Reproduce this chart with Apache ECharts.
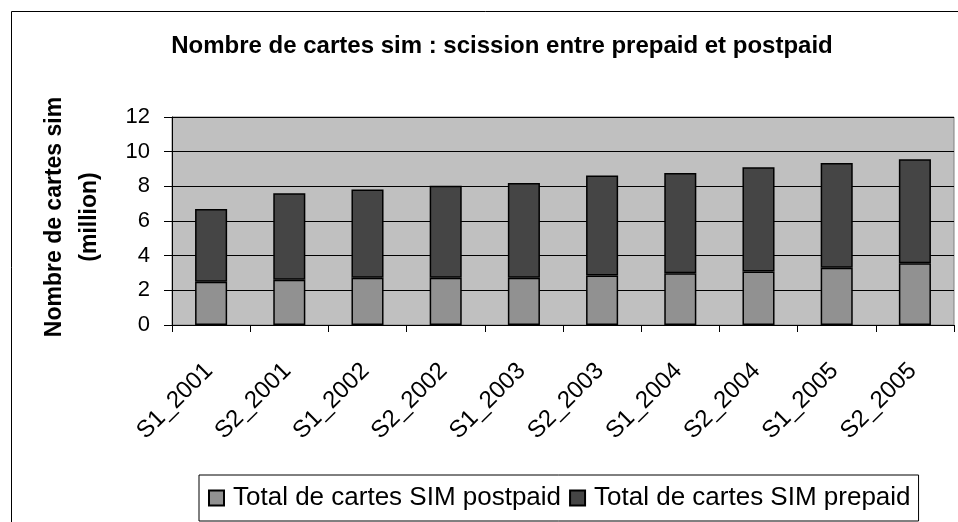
<!DOCTYPE html>
<html>
<head>
<meta charset="utf-8">
<script src="https://cdn.jsdelivr.net/npm/echarts@6/dist/echarts.min.js"></script>
<style>
html,body{margin:0;padding:0;background:#fff;}
#c{width:958px;height:522px;}
</style>
</head>
<body>
<div id="c"></div>
<script>
const categories = ['S1_2001','S2_2001','S1_2002','S2_2002','S1_2003','S2_2003','S1_2004','S2_2004','S1_2005','S2_2005'];
const postpaid = [2.50, 2.61, 2.73, 2.73, 2.73, 2.86, 2.98, 3.09, 3.31, 3.56];
const prepaid  = [4.19, 4.99, 5.09, 5.31, 5.46, 5.77, 5.79, 6.01, 6.04, 6.00];
const yTicks = [0, 2, 4, 6, 8, 10, 12];
const titleText = 'Nombre de cartes sim : scission entre prepaid et postpaid';
const yName = 'Nombre de cartes sim\n(million)';
const seriesNames = ['Total de cartes SIM postpaid', 'Total de cartes SIM prepaid'];

const FONT = 'Liberation Sans, Arial, sans-serif';
const chart = echarts.init(document.getElementById('c'), null, {renderer: 'canvas'});
chart.setOption({
  animation: false,
  backgroundColor: '#ffffff',
  title: {
    text: titleText,
    left: 497, top: 29, textAlign: 'center',
    textStyle: {fontFamily: FONT, fontWeight: 'bold', fontSize: 24, color: '#000'}
  },
  graphic: [
    {type: 'rect', shape: {x: 11.5, y: 11.5, width: 1200, height: 1200}, style: {fill: 'none', stroke: '#000', lineWidth: 1}, z: -10, silent: true},
    {type: 'text', x: 72, y: 217, rotation: Math.PI / 2,
     style: {text: yName, fontFamily: FONT, fontWeight: 'bold', fontSize: 23, lineHeight: 35, fill: '#000', align: 'center', verticalAlign: 'middle'}}
  ],
  legend: {
    left: 199, top: 475,
    data: seriesNames,
    itemWidth: 15, itemHeight: 15, itemGap: 8,
    padding: [8, 8, 8, 9],
    borderColor: '#000', borderWidth: 1,
    textStyle: {fontFamily: FONT, fontSize: 26, lineHeight: 30, color: '#000', padding: [0, 0, 0, 4]},
    icon: 'rect'
  },
  grid: {left: 172, right: 4, top: 117, bottom: 197, backgroundColor: '#c0c0c0', show: true, borderColor: '#808080', borderWidth: 1},
  xAxis: {
    type: 'category', data: categories,
    axisLine: {lineStyle: {color: '#000', width: 1}},
    axisTick: {show: true, length: 7, lineStyle: {color: '#000'}},
    axisLabel: {rotate: 45, margin: 40, fontFamily: FONT, fontSize: 24, color: '#000', interval: 0, padding: [0, 3, 0, 0]}
  },
  yAxis: {
    type: 'value', min: 0, max: 12, interval: 2,
    axisLine: {show: true, lineStyle: {color: '#000', width: 1}},
    axisTick: {show: true, length: 8, lineStyle: {color: '#000'}},
    splitLine: {show: true, lineStyle: {color: '#000', width: 1}},
    axisLabel: {margin: 22, fontFamily: FONT, fontSize: 22, color: '#000',
      formatter: v => yTicks.indexOf(v) >= 0 ? String(v) : ''}
  },
  series: [
    {name: seriesNames[0], type: 'bar', stack: 'total', data: postpaid, barWidth: '41%',
     itemStyle: {color: '#919191', borderColor: '#000', borderWidth: 1.5}},
    {name: seriesNames[1], type: 'bar', stack: 'total', data: prepaid, barWidth: '41%',
     itemStyle: {color: '#454545', borderColor: '#000', borderWidth: 1.5}}
  ]
});
</script>
</body>
</html>
